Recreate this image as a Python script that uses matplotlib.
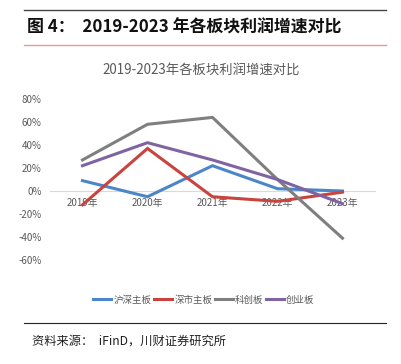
import matplotlib
matplotlib.use("Agg")
import matplotlib.pyplot as plt
from matplotlib.lines import Line2D

plt.rcParams['font.family'] = ['Noto Sans CJK SC', 'DejaVu Sans']

# data
years = ['2019年', '2020年', '2021年', '2022年', '2023年']
hs_main = [9, -5, 22, 2, 0]        # 沪深主板
sz_main = [-12, 37, -5, -9, -1]    # 深市主板
star = [27, 58, 64, 10, -41]       # 科创板
gem = [22, 42, 27, 10, -11]        # 创业板

series = [('沪深主板', hs_main, '#4a86c8'),
          ('深市主板', sz_main, '#c8443f'),
          ('科创板', star, '#7f7f7f'),
          ('创业板', gem, '#8064a2')]

W, H = 401, 364
fig = plt.figure(figsize=(W / 100, H / 100), dpi=100)

# header lines and title
fig.add_artist(Line2D([24 / W, 386 / W], [1 - 10 / H] * 2, color='#444444', lw=1))
fig.add_artist(Line2D([24 / W, 386 / W], [1 - 45 / H] * 2, color='#e49a9a', lw=1))
fig.text(27 / W, 1 - 28 / H, '图 4：  2019-2023 年各板块利润增速对比',
         fontsize=12.2, fontweight='bold', va='center', ha='left', color='#111111')
fig.text(201 / W, 1 - 70 / H, '2019-2023年各板块利润增速对比',
         fontsize=9.6, va='center', ha='center', color='#595959')

ax = fig.add_axes([50 / W, 1 - 260 / H, 325 / W, 161 / H])
x = range(len(years))
for name, vals, c in series:
    ax.plot(x, vals, color=c, lw=2.2, label=name, solid_joinstyle='miter')

ax.set_xlim(-0.5, len(years) - 0.5)
ax.set_ylim(-60, 80)
ax.set_yticks(range(-60, 81, 20))
ax.set_yticklabels([f'{v}%' for v in range(-60, 81, 20)])
ax.set_xticks(list(x))
ax.set_xticklabels(years)
for s in ['top', 'right', 'left']:
    ax.spines[s].set_visible(False)
ax.spines['bottom'].set_position(('data', 0))
ax.spines['bottom'].set_color('#d9d9d9')
ax.spines['bottom'].set_zorder(0)
ax.tick_params(axis='both', length=0, labelsize=7, colors='#595959')
ax.tick_params(axis='x', pad=5)
ax.tick_params(axis='y', pad=6)
ax.patch.set_alpha(0)

handles = [Line2D([], [], color=c, lw=2.2) for _, _, c in series]
fig.legend(handles, [n for n, _, _ in series], loc='center',
           bbox_to_anchor=(204 / W, 1 - 300 / H), ncol=4, frameon=False,
           fontsize=6.8, handlelength=1.9, handletextpad=0.25, columnspacing=0.25,
           labelcolor='#595959')

fig.add_artist(Line2D([24 / W, 386 / W], [1 - 323 / H] * 2, color='#222222', lw=0.8))
fig.text(32 / W, 1 - 341 / H, '资料来源：  iFinD，川财证券研究所',
         fontsize=8.8, style='italic', va='center', ha='left', color='#222222')

fig.savefig('out.png', dpi=100)
